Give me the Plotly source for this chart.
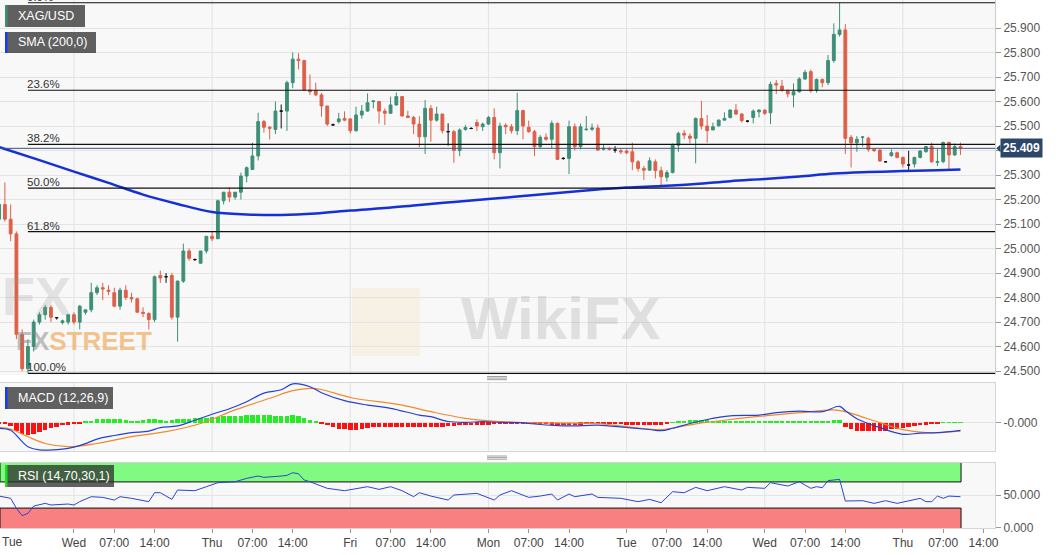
import plotly.graph_objects as go

# hourly candles, t = hours from Wed 00:00 (first week), weekend removed
T0 = -13
OPEN = [
    25.12, 25.18, 25.12, 25.06, 24.65, 24.51, 24.60, 24.70, 24.73, 24.76, 24.718, 24.698, 24.70,
    24.73, 24.70, 24.74, 24.75, 24.82, 24.84, 24.83, 24.82, 24.765, 24.83, 24.80, 24.795,
    24.74, 24.735, 24.71, 24.89, 24.885, 24.89, 24.72, 24.867, 24.99, 24.955, 24.94, 24.99,
    25.05, 25.04, 25.195, 25.23, 25.21, 25.23, 25.296, 25.323, 25.378, 25.518, 25.495, 25.486,
    25.561, 25.561, 25.677, 25.773, 25.767, 25.647, 25.645, 25.627, 25.582, 25.505, 25.518, 25.531,
    25.529, 25.481, 25.545, 25.561, 25.60, 25.60, 25.561, 25.552, 25.586, 25.62, 25.541, 25.535,
    25.508, 25.456, 25.572, 25.524, 25.549, 25.477, 25.477, 25.40, 25.486, 25.49, 25.514, 25.497,
    25.508, 25.535, 25.391, 25.503, 25.497, 25.481, 25.563, 25.495, 25.477, 25.416, 25.454, 25.446,
    25.511, 25.368, 25.368, 25.497, 25.416, 25.485, 25.487, 25.492, 25.405, 25.407, 25.402, 25.399,
    25.398, 25.395, 25.354, 25.327, 25.32, 25.354, 25.318, 25.291, 25.31, 25.422, 25.47, 25.459,
    25.45, 25.531, 25.50, 25.484, 25.501, 25.524, 25.535, 25.565, 25.549, 25.52, 25.535, 25.558,
    25.565, 25.554, 25.674, 25.663, 25.644, 25.627, 25.64, 25.692, 25.722, 25.647, 25.69, 25.677,
    25.767, 25.874, 25.892, 25.454, 25.432, 25.454, 25.45, 25.405, 25.402, 25.354, 25.379, 25.391,
    25.372, 25.341, 25.345, 25.372, 25.395, 25.418, 25.352, 25.355, 25.433, 25.382, 25.416,
]
HIGH = [
    25.19, 25.27, 25.18, 25.07, 24.67, 24.63, 24.71, 24.74, 24.77, 24.77, 24.72, 24.71, 24.73,
    24.74, 24.77, 24.75, 24.86, 24.85, 24.86, 24.85, 24.84, 24.84, 24.85, 24.82, 24.80,
    24.76, 24.74, 24.89, 24.91, 24.90, 24.90, 24.87, 25.02, 25.00, 24.96, 24.99, 25.05,
    25.07, 25.20, 25.23, 25.25, 25.23, 25.31, 25.335, 25.432, 25.554, 25.525, 25.50, 25.60,
    25.588, 25.685, 25.80, 25.797, 25.77, 25.71, 25.677, 25.635, 25.582, 25.51, 25.554, 25.56,
    25.532, 25.579, 25.586, 25.633, 25.605, 25.60, 25.572, 25.62, 25.637, 25.622, 25.562, 25.541,
    25.54, 25.606, 25.586, 25.579, 25.549, 25.511, 25.484, 25.49, 25.504, 25.495, 25.527, 25.514,
    25.541, 25.572, 25.514, 25.511, 25.508, 25.636, 25.566, 25.522, 25.484, 25.463, 25.47, 25.522,
    25.514, 25.372, 25.522, 25.51, 25.51, 25.541, 25.51, 25.506, 25.425, 25.415, 25.418, 25.41,
    25.405, 25.432, 25.361, 25.337, 25.372, 25.364, 25.334, 25.32, 25.429, 25.477, 25.484, 25.47,
    25.535, 25.603, 25.545, 25.514, 25.527, 25.556, 25.568, 25.59, 25.552, 25.522, 25.568, 25.568,
    25.568, 25.681, 25.688, 25.688, 25.649, 25.674, 25.699, 25.729, 25.731, 25.694, 25.694, 25.79,
    25.919, 26.003, 25.916, 25.463, 25.459, 25.459, 25.456, 25.41, 25.405, 25.356, 25.405, 25.395,
    25.375, 25.399, 25.375, 25.402, 25.418, 25.432, 25.409, 25.436, 25.436, 25.429, 25.432,
]
LOW = [
    25.10, 25.11, 25.03, 24.63, 24.50, 24.491, 24.58, 24.69, 24.71, 24.70, 24.71, 24.69, 24.69,
    24.69, 24.67, 24.73, 24.74, 24.81, 24.79, 24.81, 24.76, 24.75, 24.79, 24.78, 24.74,
    24.72, 24.67, 24.70, 24.86, 24.86, 24.71, 24.62, 24.86, 24.95, 24.95, 24.94, 24.98,
    25.03, 25.04, 25.18, 25.19, 25.20, 25.20, 25.27, 25.32, 25.36, 25.473, 25.445, 25.467,
    25.49, 25.48, 25.654, 25.731, 25.645, 25.627, 25.622, 25.538, 25.50, 25.50, 25.51, 25.52,
    25.47, 25.477, 25.53, 25.558, 25.572, 25.51, 25.504, 25.55, 25.583, 25.538, 25.532, 25.467,
    25.413, 25.386, 25.436, 25.518, 25.47, 25.42, 25.35, 25.377, 25.481, 25.487, 25.48, 25.48,
    25.504, 25.364, 25.327, 25.467, 25.47, 25.463, 25.446, 25.473, 25.378, 25.409, 25.44, 25.409,
    25.361, 25.362, 25.304, 25.40, 25.405, 25.481, 25.48, 25.398, 25.40, 25.40, 25.391, 25.385,
    25.385, 25.32, 25.314, 25.28, 25.318, 25.286, 25.255, 25.273, 25.307, 25.395, 25.446, 25.429,
    25.348, 25.486, 25.432, 25.484, 25.497, 25.524, 25.531, 25.545, 25.514, 25.515, 25.511, 25.535,
    25.545, 25.508, 25.631, 25.64, 25.617, 25.576, 25.636, 25.688, 25.636, 25.636, 25.658, 25.667,
    25.759, 25.865, 25.386, 25.331, 25.395, 25.416, 25.395, 25.395, 25.354, 25.352, 25.375, 25.368,
    25.331, 25.314, 25.331, 25.368, 25.392, 25.35, 25.337, 25.348, 25.323, 25.378, 25.382,
]
CLOSE = [
    25.18, 25.12, 25.06, 24.65, 24.51, 24.60, 24.70, 24.73, 24.76, 24.72, 24.718, 24.705, 24.73,
    24.70, 24.765, 24.75, 24.82, 24.84, 24.835, 24.825, 24.765, 24.83, 24.80, 24.795, 24.74,
    24.735, 24.71, 24.885, 24.88, 24.885, 24.72, 24.867, 24.99, 24.96, 24.955, 24.99, 25.05,
    25.04, 25.195, 25.23, 25.21, 25.23, 25.296, 25.33, 25.378, 25.518, 25.495, 25.491, 25.561,
    25.561, 25.677, 25.773, 25.767, 25.647, 25.64, 25.627, 25.582, 25.508, 25.505, 25.529, 25.524,
    25.481, 25.545, 25.561, 25.595, 25.602, 25.561, 25.552, 25.586, 25.62, 25.541, 25.535, 25.508,
    25.456, 25.572, 25.524, 25.549, 25.481, 25.477, 25.40, 25.484, 25.494, 25.49, 25.50, 25.508,
    25.535, 25.391, 25.50, 25.497, 25.481, 25.563, 25.50, 25.477, 25.416, 25.454, 25.446, 25.511,
    25.364, 25.368, 25.497, 25.416, 25.497, 25.487, 25.492, 25.402, 25.409, 25.405, 25.402, 25.395,
    25.391, 25.354, 25.327, 25.32, 25.358, 25.318, 25.293, 25.31, 25.422, 25.47, 25.463, 25.45,
    25.531, 25.50, 25.481, 25.497, 25.524, 25.531, 25.565, 25.549, 25.522, 25.52, 25.561, 25.565,
    25.552, 25.67, 25.667, 25.647, 25.631, 25.64, 25.692, 25.719, 25.644, 25.69, 25.677, 25.767,
    25.874, 25.892, 25.45, 25.432, 25.446, 25.455, 25.405, 25.399, 25.357, 25.354, 25.391, 25.372,
    25.345, 25.341, 25.372, 25.398, 25.416, 25.354, 25.355, 25.433, 25.382, 25.416, 25.409,
]
DOJI = [-3, 16, 21, 36, 45, 65, 69, 85, 94, 117, 141, 145]
LAST_PRICE = 25.409

SMA_T = [-13, -6, 0, 6, 12, 18, 24, 30, 36, 42, 48, 54, 60, 66, 72, 78, 84, 90, 96, 102,
         108, 114, 120, 126, 132, 138, 144, 150, 154]
SMA = [25.414, 25.361, 25.314, 25.268, 25.220, 25.182, 25.149, 25.139, 25.137, 25.143,
       25.155, 25.165, 25.178, 25.190, 25.202, 25.214, 25.227, 25.239, 25.249, 25.255,
       25.263, 25.275, 25.284, 25.294, 25.306, 25.312, 25.316, 25.320, 25.323]

FIB_LABELS = ["0.0%", "23.6%", "38.2%", "50.0%", "61.8%", "100.0%"]
FIB_LEVELS = [26.003, 25.646, 25.425, 25.247, 25.069, 24.491]
FIB_START = -8

MACD_T = [-13, -11, -9, -8, -6, -2, 0, 2, 4, 7, 10, 13, 15, 18, 21, 24, 27, 30, 33, 36, 38,
          41, 43, 47, 51, 55, 60, 62, 65, 68, 71, 74, 78, 79, 85, 87, 91, 96, 100, 102, 104,
          107, 110, 114, 119, 122, 126, 130, 133, 134, 136, 140, 144, 147, 150, 154]
MACD = [-0.014, -0.019, -0.0475, -0.060, -0.068, -0.066, -0.061, -0.0525, -0.041, -0.032,
        -0.025, -0.021, -0.0125, -0.008, 0.006, 0.021, 0.035, 0.0525, 0.074, 0.0825, 0.097,
        0.090, 0.075, 0.055, 0.044, 0.036, 0.019, 0.015, 0.003, 0.001, 0.0025, 0.001, 0.0,
        -0.002, -0.008, -0.008, -0.006, -0.012, -0.017, -0.020, -0.014, -0.002, 0.008, 0.017,
        0.019, 0.025, 0.029, 0.0275, 0.041, 0.030, 0.010, -0.0125, -0.029, -0.026, -0.025,
        -0.019]
SIGNAL_T = [-13, -11, -8, -5, -1, 4, 10, 16, 22, 28, 34, 38, 41, 43, 48, 57, 62, 68, 74, 78,
            91, 96, 102, 108, 114, 120, 126, 132, 134, 136, 140, 144, 148, 150, 154]
SIGNAL = [-0.0125, -0.016, -0.035, -0.052, -0.060, -0.052, -0.035, -0.0225, -0.002, 0.032,
          0.061, 0.080, 0.086, 0.083, 0.063, 0.044, 0.0275, 0.011, 0.0025, 0.0, -0.002, -0.010,
          -0.017, -0.003, 0.008, 0.017, 0.025, 0.032, 0.0275, 0.019, 0.0, -0.0175, -0.025,
          -0.025, -0.021]
HIST = [
    -0.0008, -0.0012, -0.0075, -0.020, -0.0275, -0.030, -0.0275, -0.0225, -0.0175, -0.0125,
    -0.0088, -0.0062, -0.0038,
    -0.0025, -0.0012, 0.0025, 0.0062, 0.010, 0.0112, 0.0112, 0.010, 0.0088, 0.0075, 0.0062,
    0.005, 0.0075, 0.0088, 0.010, 0.0075, 0.0062, 0.0075, 0.010, 0.0112, 0.0112, 0.0125,
    0.0125, 0.0125,
    0.015, 0.0162, 0.0175, 0.0175, 0.0175, 0.0175, 0.0188, 0.020, 0.0212, 0.020, 0.0188,
    0.0175, 0.0175, 0.0175, 0.0188, 0.0175, 0.0125, 0.0075, 0.0025, -0.0025, -0.0062,
    -0.010, -0.015, -0.0162,
    -0.0175, -0.0175, -0.015, -0.0125, -0.0112, -0.0112, -0.0112, -0.0112, -0.0112, -0.0112,
    -0.010, -0.010, -0.0088, -0.0088, -0.0088, -0.0088, -0.0088, -0.0075, -0.0075, -0.0062,
    -0.005, -0.005, -0.0038, -0.0038,
    -0.0038, -0.0025, -0.0025, -0.0025, -0.0012, -0.0012, -0.0012, -0.0012, -0.0025, -0.0025,
    -0.0025, -0.0038, -0.005, -0.0062, -0.0062, -0.005, -0.0038, -0.0025, -0.0025, -0.0025,
    -0.0025, -0.0025, -0.0025, -0.003,
    -0.0038, -0.0038, -0.0038, -0.0038, -0.0038, -0.0038, -0.0038, -0.0025,
    0.0012, 0.0025, 0.005, 0.0075, 0.0075, 0.0075, 0.0075, 0.0062, 0.005, 0.005, 0.005,
    0.0038, 0.0025, 0.0025, 0.0025, 0.0025, 0.0025, 0.0025, 0.0025, 0.0025, 0.0025, 0.0025,
    0.0025, 0.0025, 0.0025, 0.0025, 0.0025, 0.0062, 0.0075, 0.0082,
    -0.010, -0.015, -0.0188, -0.020, -0.020, -0.020, -0.020, -0.0188, -0.0162, -0.0138,
    -0.0125, -0.010, -0.0075, -0.005, -0.0038, -0.0025, -0.0025,
    0.0012, 0.0012, 0.0012, 0.0012,
]

RSI_T = [-13, -11, -10, -9, -8, -7, -5, -4, -1, 0, 1, 3, 5, 7, 8, 10, 13, 14, 15, 17, 18, 21,
         23, 25, 28, 30, 32, 33, 36, 37, 38, 39, 40, 41, 44, 47, 51, 53, 55, 57, 59, 60, 62, 65,
         66, 70, 73, 74, 76, 78, 79, 81, 83, 84, 86, 87, 90, 91, 95, 98, 100, 102, 104, 106,
         108, 110, 113, 116, 117, 120, 121, 124, 126, 128, 129, 130, 131, 133, 134, 137, 139,
         141, 143, 147, 148, 149, 150, 151, 152, 154]
RSI = [48.4, 44.9, 29.6, 18.4, 21.9, 33.1, 37.2, 34.7, 36.2, 34.7, 39.8, 47.4, 46.4, 42.3,
       47.4, 44.9, 39.8, 53.5, 53.5, 43.3, 57.6, 56.6, 62.7, 68.8, 70.3, 75.4, 79.0, 77.0,
       79.0, 80.0, 84.1, 82.5, 72.9, 70.3, 60.2, 56.6, 62.7, 58.6, 62.7, 56.6, 47.4, 53.5,
       48.4, 42.3, 50.0, 52.5, 42.3, 50.0, 56.6, 50.0, 46.4, 48.4, 51.5, 42.3, 51.5, 47.4,
       51.5, 46.4, 44.9, 39.8, 43.3, 38.2, 55.1, 53.5, 61.7, 56.6, 62.7, 57.6, 61.7, 60.2,
       68.8, 63.7, 70.3, 60.2, 62.7, 61.2, 72.0, 73.9, 40.8, 41.3, 37.2, 41.3, 37.2, 44.9,
       39.8, 39.8, 48.4, 44.9, 48.4, 47.4]

XTICKS = [0, 7, 14, 24, 31, 38, 48, 55, 62, 72, 79, 86, 96, 103, 110, 120, 127, 134, 144,
          151, 158]
XLABELS = ["Wed", "07:00", "14:00", "Thu", "07:00", "14:00", "Fri", "07:00", "14:00", "Mon",
           "07:00", "14:00", "Tue", "07:00", "14:00", "Wed", "07:00", "14:00", "Thu", "07:00",
           "14:00"]
DAYS = [0, 24, 48, 72, 96, 120, 144]
PRICE_TICKS = [24.5, 24.6, 24.7, 24.8, 24.9, 25.0, 25.1, 25.2, 25.3, 25.4, 25.5, 25.6, 25.7,
               25.8, 25.9]

UP = "#3d8f77"
DOWN = "#de604a"
FONT = "Liberation Sans"
W_PLOT, H_PLOT = 995, 528   # plot area in px (margins l=0, r=65, t=0, b=27)
X_RANGE = [-12.85, 160.0]


def px_x(x):
    return x / W_PLOT


def px_y(y):
    return 1 - y / H_PLOT


t = list(range(T0, T0 + len(OPEN)))
normal = [i for i, ti in enumerate(t) if ti not in DOJI]
doji = [i for i, ti in enumerate(t) if ti in DOJI]


def pick(arr, idx):
    return [arr[i] for i in idx]


fig = go.Figure()

fig.add_trace(go.Candlestick(
    x=pick(t, normal), open=pick(OPEN, normal), high=pick(HIGH, normal),
    low=pick(LOW, normal), close=pick(CLOSE, normal),
    increasing=dict(line=dict(color=UP, width=1), fillcolor=UP),
    decreasing=dict(line=dict(color=DOWN, width=1), fillcolor=DOWN),
    whiskerwidth=0, xaxis="x", yaxis="y", hoverinfo="skip",
))
fig.add_trace(go.Candlestick(
    x=pick(t, doji), open=pick(OPEN, doji), high=pick(HIGH, doji),
    low=pick(LOW, doji), close=pick(CLOSE, doji),
    increasing=dict(line=dict(color="#111", width=1), fillcolor="#111"),
    decreasing=dict(line=dict(color="#111", width=1), fillcolor="#111"),
    whiskerwidth=0, xaxis="x", yaxis="y", hoverinfo="skip",
))
fig.add_trace(go.Scatter(
    x=SMA_T, y=SMA, mode="lines", line=dict(color="#1630d8", width=2.5, shape="spline"),
    xaxis="x", yaxis="y", hoverinfo="skip",
))

# MACD panel
fig.add_trace(go.Bar(
    x=t, y=HIST, width=0.78, marker=dict(color=["#22ee22" if v >= 0 else "#ff1010" for v in HIST],
                                         line=dict(width=0)),
    xaxis="x2", yaxis="y2", hoverinfo="skip",
))
fig.add_trace(go.Scatter(
    x=SIGNAL_T, y=SIGNAL, mode="lines", line=dict(color="#f08a2a", width=1.2, shape="spline"),
    xaxis="x2", yaxis="y2", hoverinfo="skip",
))
fig.add_trace(go.Scatter(
    x=MACD_T, y=MACD, mode="lines", line=dict(color="#2440d8", width=1.2, shape="spline"),
    xaxis="x2", yaxis="y2", hoverinfo="skip",
))

# RSI panel
fig.add_trace(go.Scatter(
    x=RSI_T, y=RSI, mode="lines", line=dict(color="#2a44d4", width=1),
    xaxis="x3", yaxis="y3", hoverinfo="skip",
))

shapes = []
for d in DAYS:
    for xr, yr in (("x", "y domain"), ("x2", "y2 domain"), ("x3", "y3 domain")):
        shapes.append(dict(type="line", xref=xr, yref=yr, x0=d, x1=d, y0=0, y1=1,
                           line=dict(color="#e2e2e2", width=1), layer="below"))

# RSI bands
shapes.append(dict(type="rect", xref="x3", yref="y3", x0=X_RANGE[0], x1=t[-1] + 0.1,
                   y0=70, y1=105, fillcolor="#80fa80", line=dict(color="#111", width=1),
                   layer="below"))
shapes.append(dict(type="rect", xref="x3", yref="y3", x0=X_RANGE[0], x1=t[-1] + 0.1,
                   y0=-5, y1=30, fillcolor="#f98080", line=dict(color="#111", width=1),
                   layer="below"))

# fibonacci lines and last price line
for lvl in FIB_LEVELS:
    shapes.append(dict(type="line", xref="x", yref="y", x0=FIB_START, x1=X_RANGE[1],
                       y0=lvl, y1=lvl, line=dict(color="#111", width=1.2)))
shapes.append(dict(type="line", xref="paper", yref="y", x0=0, x1=1, y0=LAST_PRICE,
                   y1=LAST_PRICE, line=dict(color="#3a5480", width=1)))
shapes.append(dict(type="path", xref="paper", yref="y",
                   path=f"M 1.0012,{LAST_PRICE} L 1.0055,{LAST_PRICE + 0.016} "
                        f"L 1.0055,{LAST_PRICE - 0.016} Z",
                   fillcolor="#2d4669", line=dict(width=0)))

# indicator name boxes
boxes = [
    ("XAG/USD", 5, 85, 5, 27, "#3a8f7a"),
    ("SMA (200,0)", 5, 96, 32, 53, "#1a3cf0"),
    ("MACD (12,26,9)", 5, 113, 387, 409, "#1a3cf0"),
    ("RSI (14,70,30,1)", 5, 114, 465, 487, "#22d822"),
]
annotations = []
for label, x0, x1, y0, y1, stripe in boxes:
    shapes.append(dict(type="rect", xref="paper", yref="paper", x0=px_x(x0), x1=px_x(x1),
                       y0=px_y(y1), y1=px_y(y0), fillcolor="rgba(45,45,45,0.75)",
                       line=dict(width=0)))
    shapes.append(dict(type="rect", xref="paper", yref="paper", x0=px_x(x0), x1=px_x(x0 + 2.5),
                       y0=px_y(y1), y1=px_y(y0), fillcolor=stripe, line=dict(width=0)))
    annotations.append(dict(text=label, xref="paper", yref="paper", x=px_x(16),
                            y=px_y((y0 + y1) / 2), xanchor="left", yanchor="middle",
                            showarrow=False, font=dict(family=FONT, size=12.5, color="white")))

# panel drag handles
for yh in (376.5, 456.0):
    for k in range(3):
        shapes.append(dict(type="line", xref="paper", yref="paper", x0=px_x(487), x1=px_x(507),
                           y0=px_y(yh + k * 1.6), y1=px_y(yh + k * 1.6),
                           line=dict(color="#888", width=0.8)))

for lab, lvl in zip(FIB_LABELS, FIB_LEVELS):
    annotations.append(dict(text=lab, xref="x", yref="y", x=FIB_START, y=lvl,
                            xanchor="left", yanchor="bottom", showarrow=False, xshift=-3,
                            yshift=-2, font=dict(family=FONT, size=11.5, color="#333")))

annotations.append(dict(text=f"<b>{LAST_PRICE:.3f}</b>", xref="paper", yref="y", x=1.0055,
                        y=LAST_PRICE, xanchor="left", yanchor="middle", showarrow=False,
                        bgcolor="#2d4669", borderpad=2,
                        font=dict(family=FONT, size=12, color="white")))
annotations.append(dict(text="Tue", xref="paper", yref="paper", x=px_x(0), y=px_y(533),
                        xanchor="left", yanchor="top", showarrow=False,
                        font=dict(family=FONT, size=12, color="#444")))

# watermarks
annotations.append(dict(text="<b>FX</b>", xref="paper", yref="paper", x=px_x(0), y=px_y(296),
                        xanchor="left", yanchor="middle", showarrow=False,
                        font=dict(family=FONT, size=54, color="rgba(150,150,150,0.22)")))
annotations.append(dict(text="<b><span style='color:rgba(140,140,140,0.55)'>FX</span>"
                             "<span style='color:rgba(240,160,70,0.6)'>STREET</span></b>",
                        xref="paper", yref="paper", x=px_x(14), y=px_y(341),
                        xanchor="left", yanchor="middle", showarrow=False,
                        font=dict(family=FONT, size=26)))
annotations.append(dict(text="<b>WikiFX</b>", xref="paper", yref="paper", x=px_x(560),
                        y=px_y(318), xanchor="center", yanchor="middle", showarrow=False,
                        font=dict(family=FONT, size=60, color="rgba(170,170,170,0.32)")))
shapes.append(dict(type="rect", xref="paper", yref="paper", x0=px_x(352), x1=px_x(420),
                   y0=px_y(356), y1=px_y(288), fillcolor="rgba(235,200,130,0.16)",
                   line=dict(width=0), layer="below"))

# the 25.400 label sits under the last-price box in the original
price_text = ["" if abs(v - 25.4) < 1e-9 else f"{v:.3f}" for v in PRICE_TICKS]

axis_common = dict(range=X_RANGE, showgrid=False, zeroline=False, fixedrange=True)
fig.update_layout(
    width=1060, height=555,
    margin=dict(l=0, r=65, t=0, b=27),
    paper_bgcolor="white", plot_bgcolor="#f8f8f8",
    showlegend=False, hovermode=False, bargap=0,
    font=dict(family=FONT, size=12, color="#555"),
    xaxis=dict(axis_common, domain=[0, 1], anchor="y", showticklabels=False,
               rangeslider=dict(visible=False)),
    yaxis=dict(domain=[1 - 375 / H_PLOT, 1], anchor="x", side="right",
               range=[24.484, 26.0143], tickvals=PRICE_TICKS, ticktext=price_text,
               ticks="outside", ticklen=5, tickcolor="#999", showline=True, linecolor="#ccc",
               gridcolor="#e4e4e4", zeroline=False, tickfont=dict(size=12, color="#555")),
    xaxis2=dict(axis_common, domain=[0, 1], anchor="y2", showticklabels=False,
                showline=True, mirror=True, linecolor="#d6d6d6"),
    yaxis2=dict(domain=[1 - 451 / H_PLOT, 1 - 382.7 / H_PLOT], anchor="x2", side="right",
                range=[-0.0708, 0.1], tickvals=[0], ticktext=["-0.000"], ticks="outside",
                ticklen=5, tickcolor="#999", showline=True, mirror=True, linecolor="#d6d6d6",
                gridcolor="#e4e4e4", zeroline=False, tickfont=dict(size=12, color="#555")),
    xaxis3=dict(axis_common, domain=[0, 1], anchor="y3", tickvals=XTICKS, ticktext=XLABELS,
                ticks="outside", ticklen=4, tickcolor="#999", showline=True, mirror=True,
                linecolor="#d6d6d6", tickfont=dict(size=12, color="#444")),
    yaxis3=dict(domain=[0, 1 - 462.7 / H_PLOT], anchor="x3", side="right",
                range=[-0.46, 99.4], tickvals=[0, 50], tickformat=".3f", ticks="outside",
                ticklen=5, tickcolor="#999", showline=True, mirror=True, linecolor="#d6d6d6",
                gridcolor="#e4e4e4", zeroline=False, tickfont=dict(size=12, color="#555")),
    shapes=shapes,
    annotations=annotations,
)

# page body has a default 8px margin; drop it so the figure sits at the window origin
fig.write_html("out.html", config={"displayModeBar": False},
               post_script="document.body.style.margin='0';")
